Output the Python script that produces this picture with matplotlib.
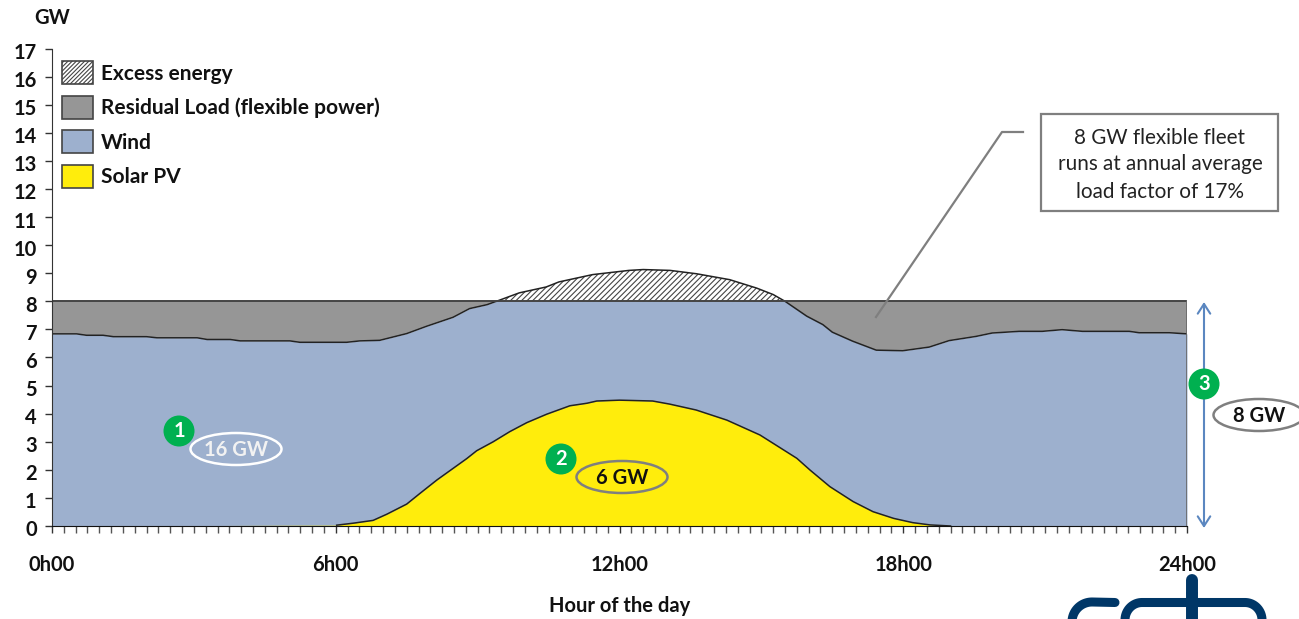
import numpy as np
import matplotlib
matplotlib.use("Agg")
import matplotlib.pyplot as plt
from matplotlib.patches import Ellipse, Rectangle, Circle
from matplotlib.transforms import ScaledTranslation

plt.rcParams['font.family'] = ['Lato', 'DejaVu Sans']
plt.rcParams['hatch.linewidth'] = 0.8

W, H = 1299, 619

total_hours = [0, 0.52, 0.73, 1.08, 1.3, 2.0, 2.22, 3.07, 3.28, 3.77, 3.98, 5.03, 5.24, 6.23,
               6.51, 6.93, 7.5, 7.92, 8.48, 8.83, 9.2, 9.43, 9.88, 10.45, 10.72, 11.43, 12.2,
               12.5, 13.07, 13.63, 14.33, 14.9, 15.25, 15.5, 15.96, 16.3, 16.5, 16.93, 17.43,
               17.99, 18.55, 18.97, 19.54, 19.88, 20.45, 20.94, 21.36, 21.79, 22.78, 22.99,
               23.63, 24]
total = [6.84, 6.84, 6.79, 6.79, 6.74, 6.74, 6.70, 6.70, 6.64, 6.64, 6.59, 6.59, 6.54, 6.54,
         6.59, 6.61, 6.85, 7.11, 7.43, 7.74, 7.88, 8.02, 8.30, 8.51, 8.69, 8.95, 9.10,
         9.13, 9.10, 8.98, 8.77, 8.47, 8.24, 8.00, 7.47, 7.17, 6.90, 6.58, 6.26,
         6.24, 6.37, 6.60, 6.75, 6.87, 6.93, 6.93, 6.99, 6.93, 6.93, 6.88,
         6.88, 6.84]
solar_hours = [0, 6.02, 6.37, 6.79, 7.08, 7.5, 7.78, 8.14, 8.48, 8.77, 8.98, 9.33, 9.68, 10.04,
               10.46, 10.95, 11.31, 11.52, 12.0, 12.7, 13.06, 13.62, 14.27, 14.97, 15.75, 16.03,
               16.45, 16.94, 17.36, 17.8, 18.2, 18.56, 19.0, 24]
solar = [0, 0.03, 0.10, 0.20, 0.42, 0.78, 1.16, 1.64, 2.05, 2.40, 2.68, 3.00, 3.36, 3.68,
         3.98, 4.28, 4.37, 4.45, 4.48, 4.45, 4.34, 4.13, 3.77, 3.24, 2.41, 1.99,
         1.40, 0.87, 0.51, 0.27, 0.12, 0.04, 0, 0]
capacity = 8

y_ticks = list(range(0, 18))
x_major = [0, 6, 12, 18, 24]
x_labels = ['0h00', '6h00', '12h00', '18h00', '24h00']
legend_labels = ['Excess energy', 'Residual Load (flexible power)', 'Wind', 'Solar PV']
callout_lines = ['8 GW flexible fleet', 'runs at annual average', 'load factor of 17%']

BLUE = '#9DB0CE'
GREY = '#969696'
YELLOW = '#FFED0C'
GREEN = '#00B050'
DARK = '#111111'
FS = 14.5

fig = plt.figure(figsize=(W / 100, H / 100), dpi=100)
ax = fig.add_axes([52 / W, (H - 526) / H, (1187 - 52) / W, (526 - 48.5) / H])

t = np.array(total)
ax.fill_between(total_hours, 0, t, color=BLUE, lw=0)
ax.fill_between(total_hours, t, capacity, where=t <= capacity, interpolate=True, color=GREY, lw=0)
ax.fill_between(total_hours, capacity, t, where=t >= capacity, interpolate=True, facecolor='white',
                edgecolor='#444444', hatch='//////', lw=0)
ax.fill_between(solar_hours, 0, solar, color=YELLOW, lw=0)
ax.plot(total_hours, total, color='#222222', lw=1.1)
ax.axhline(capacity, color='#444444', lw=1.4)
s = np.array(solar)
sh = np.array(solar_hours)
keep = (sh > 5) & (sh < 20)
ax.plot(sh[keep], s[keep], color='#222222', lw=1.1)
ax.plot([24, 24], [0, capacity], color='#666666', lw=1.2)

ax.set_xlim(0, 24)
ax.set_ylim(0, 17)
ax.set_yticks(y_ticks)
ax.set_xticks(x_major)
ax.set_xticklabels(x_labels)
ax.set_xticks(np.arange(0, 24.01, 0.25), minor=True)
ax.tick_params(axis='y', length=5, width=1, color='#333333', labelsize=FS, labelcolor=DARK, pad=6)
ax.tick_params(axis='x', which='major', length=5, width=1, color='#333333', labelsize=FS,
               labelcolor=DARK, pad=16)
ax.tick_params(axis='x', which='minor', length=5, width=1, color='#555555')
shift = ScaledTranslation(0, -2.5 / 72 * 0.72, fig.dpi_scale_trans)
for lab in ax.get_xticklabels():
    lab.set_fontweight('bold')
for lab in ax.get_yticklabels():
    lab.set_fontweight('bold')
    lab.set_transform(lab.get_transform() + shift)
for sp in ['top', 'right']:
    ax.spines[sp].set_visible(False)
ax.spines['left'].set_color('#333333')
ax.spines['bottom'].set_color('#111111')
ax.patch.set_alpha(0)

# overlay in pixel coordinates for the annotations
ov = fig.add_axes([0, 0, 1, 1], zorder=5)
ov.set_xlim(0, W)
ov.set_ylim(H, 0)
ov.axis('off')

ov.text(52, 18, 'GW', fontsize=FS, fontweight='bold', color=DARK, ha='center', va='center')
ov.text(620, 606, 'Hour of the day', fontsize=FS, fontweight='bold', color=DARK, ha='center', va='center')

# legend
swatches = [('white', '////////'), (GREY, None), (BLUE, None), (YELLOW, None)]
for i, (lab, (col, hat)) in enumerate(zip(legend_labels, swatches)):
    y = 72.5 + i * 34.6
    ov.add_patch(Rectangle((62.5, y - 11.5), 31, 23, facecolor=col, edgecolor='#444444',
                           hatch=hat, lw=1.2))
    ov.text(101, y + 1, lab, fontsize=15, fontweight='bold', color=DARK, va='center')

# callout
ov.plot([1023, 1002, 876], [132, 132, 317], color='#7f7f7f', lw=1.6)
ov.add_patch(Rectangle((1041, 114), 237, 97, facecolor='white', edgecolor='#7f7f7f', lw=1.6))
for i, line in enumerate(callout_lines):
    ov.text(1160, 137.5 + i * 27, line, fontsize=14.9, color='#222222', ha='center', va='center')

# 8 GW arrow
ov.annotate('', xy=(1204, 302), xytext=(1204, 528),
            arrowprops=dict(arrowstyle='<->,head_length=0.7,head_width=0.45', color='#5B87C0', lw=1.5,
                            shrinkA=0, shrinkB=0))

# numbered markers
for n, x, y in [('1', 179, 431), ('2', 561, 459), ('3', 1204, 384)]:
    ov.add_patch(Circle((x, y), 15.5, facecolor=GREEN, edgecolor='none', zorder=6))
    ov.text(x, y, n, fontsize=FS, fontweight='bold', color='white', ha='center', va='center', zorder=7)

# value ovals
for txt, x, y, ec, tc, fc in [('16 GW', 236, 449, 'white', '#F2F2F2', 'none'),
                              ('6 GW', 622, 477, '#7f7f7f', DARK, 'none'),
                              ('8 GW', 1259, 415, '#7f7f7f', DARK, 'white')]:
    ov.add_patch(Ellipse((x, y), 91, 32, facecolor=fc, edgecolor=ec, lw=1.8))
    ov.text(x, y + 1, txt, fontsize=FS, fontweight='bold', color=tc, ha='center', va='center')

# logo, cut off by the bottom of the image
NAVY = '#003767'
q = np.linspace(0, np.pi / 2, 20)
ov.plot(np.r_[1072, 1092 - 20 * np.cos(q), 1115], np.r_[625, 622 - 20 * np.sin(q), 602.5],
        color=NAVY, lw=6.5, solid_capstyle='round')
ov.plot(np.r_[1125, 1142 - 17 * np.cos(q), 1245, 1245 + 17 * np.sin(q), 1262],
        np.r_[625, 620 - 17.5 * np.sin(q), 602.5, 620 - 17.5 * np.cos(q), 625],
        color=NAVY, lw=6.5)
ov.plot([1192, 1192], [580, 592], color=NAVY, lw=8.6, solid_capstyle='round')
ov.plot([1192, 1192], [598, 625], color=NAVY, lw=8.6)

fig.savefig('out.png', dpi=100)
